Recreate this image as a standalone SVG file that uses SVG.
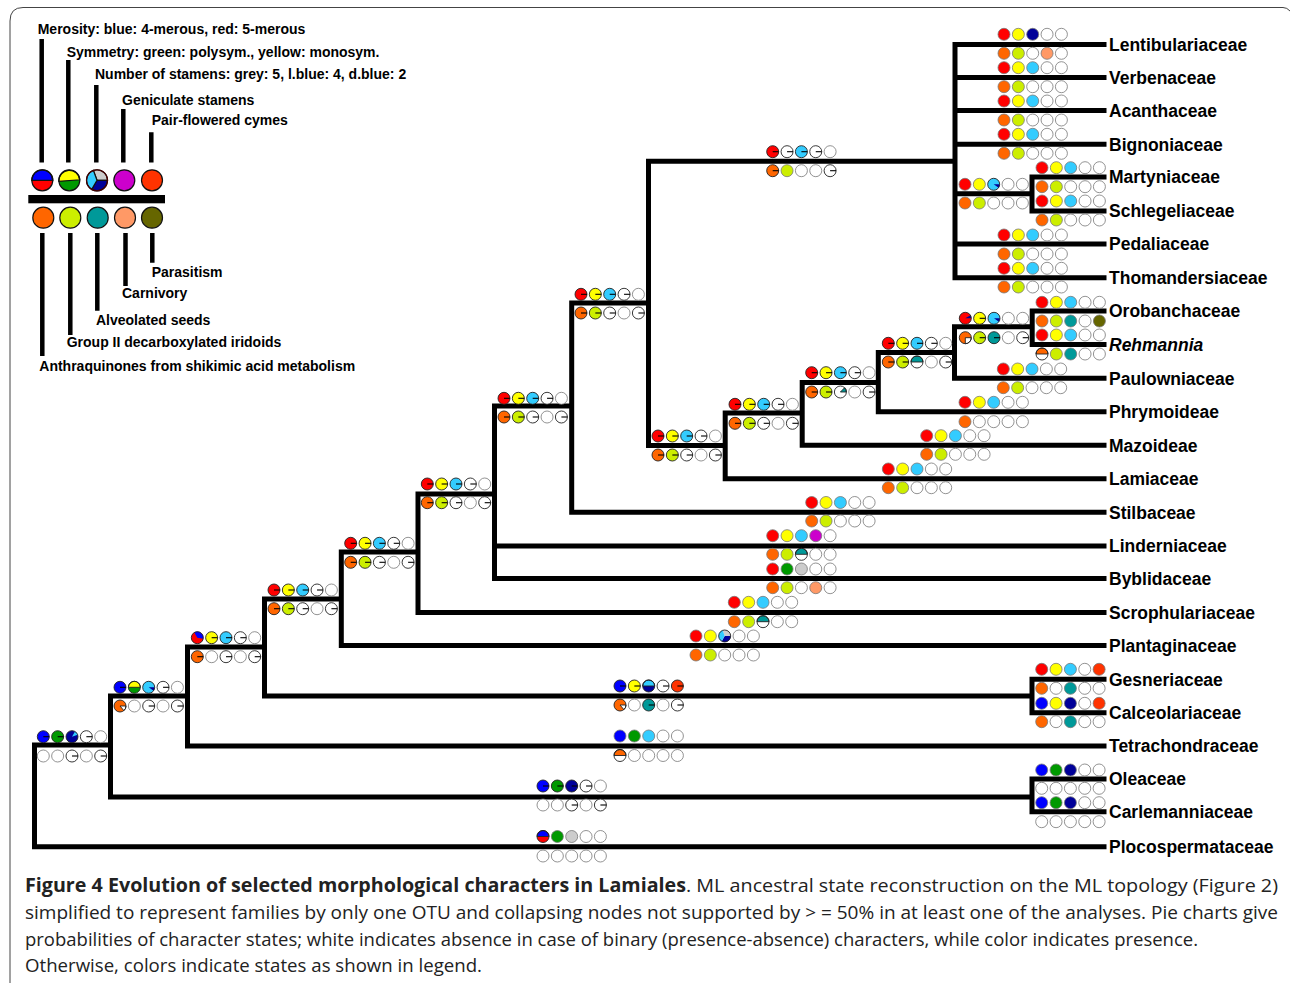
<svg xmlns="http://www.w3.org/2000/svg" width="1290" height="983" viewBox="0 0 1290 983">
<style>
.c{stroke:#777;stroke-width:.8}
.k{stroke:#222;stroke-width:.9}
.t{stroke:#000;stroke-width:1.1;fill:none}
.e{stroke:#000;stroke-width:5;fill:none;stroke-linecap:square}
.lg{stroke:#000;stroke-width:4.5;fill:none}
.lk{stroke:#111;stroke-width:1.2}
.lab{font-family:"Liberation Sans",Arial,sans-serif;font-weight:bold;font-size:17.5px;fill:#000}
.lt{font-family:"Liberation Sans",Arial,sans-serif;font-weight:bold;font-size:14px;fill:#000}
.cap{font-family:"Open Sans","Liberation Sans",sans-serif;font-size:19px;fill:#222}
</style>
<defs>
<circle id="R" r="6" fill="#f00" class="c"/>
<circle id="Y" r="6" fill="#ff0" class="c"/>
<circle id="LB" r="6" fill="#3cf" class="c"/>
<circle id="DB" r="6" fill="#009" class="c"/>
<circle id="B" r="6" fill="#00f" class="c"/>
<circle id="G" r="6" fill="#090" class="c"/>
<circle id="Gy" r="6" fill="#ccc" class="c"/>
<circle id="O" r="6" fill="#f60" class="c"/>
<circle id="L" r="6" fill="#ce0" class="c"/>
<circle id="T" r="6" fill="#099" class="c"/>
<circle id="S" r="6" fill="#f96" class="c"/>
<circle id="Ol" r="6" fill="#660" class="c"/>
<circle id="M" r="6" fill="#c0c" class="c"/>
<circle id="OR" r="6" fill="#f30" class="c"/>
<circle id="W" r="6" fill="#fff" class="c"/>
<g id="Rt"><circle r="6" fill="#f00" class="k"/><path d="M0,0H6" class="t"/></g>
<g id="Yt"><circle r="6" fill="#ff0" class="k"/><path d="M0,0H6" class="t"/></g>
<g id="LBt"><circle r="6" fill="#3cf" class="k"/><path d="M0,0H6" class="t"/></g>
<g id="Wt"><circle r="6" fill="#fff" class="k"/><path d="M0,0H6" class="t"/></g>
<g id="Ot"><circle r="6" fill="#f60" class="k"/><path d="M0,0H6" class="t"/></g>
<g id="Lt"><circle r="6" fill="#ce0" class="k"/><path d="M0,0H6" class="t"/></g>
<g id="Bt"><circle r="6" fill="#00f" class="k"/><path d="M0,0H6" class="t"/></g>
<g id="Gt"><circle r="6" fill="#090" class="k"/><path d="M0,0H6" class="t"/></g>
<g id="DBt"><circle r="6" fill="#009" class="k"/><path d="M0,0H6" class="t"/></g>
<g id="Tt"><circle r="6" fill="#099" class="k"/><path d="M0,0H6" class="t"/></g>
<g id="ORt"><circle r="6" fill="#f30" class="k"/><path d="M0,0H6" class="t"/></g>
<g id="DBlb"><circle r="6" fill="#009"/><path d="M0,0L3,-5.2A6,6 0 0 1 5.64,-2.05Z" fill="#3cf"/><circle r="6" fill="none" class="k"/></g>
<g id="LBdb"><circle r="6" fill="#3cf"/><path d="M0,0L6,0A6,6 0 0 1 4.9,3.44Z" fill="#009"/><circle r="6" fill="none" class="k"/></g>
<g id="Rdb"><circle r="6" fill="#f00"/><path d="M0,0L5.2,-3A6,6 0 0 1 6,0Z" fill="#009"/><circle r="6" fill="none" class="k"/></g>
<g id="RB"><circle r="6" fill="#f00"/><path d="M0,0L-3,-5.2A6,6 0 0 1 5.9,1.04Z" fill="#00f"/><circle r="6" fill="none" class="k"/></g>
<g id="Ow"><circle r="6" fill="#f60"/><path d="M0,0L6,0A6,6 0 0 1 3.86,4.6Z" fill="#fff" class="k"/><circle r="6" fill="none" class="k"/></g>
<g id="Oq"><circle r="6" fill="#f60"/><path d="M0,0L6,0A6,6 0 0 1 0,6Z" fill="#fff" class="k"/><circle r="6" fill="none" class="k"/></g>
<g id="Wteal"><circle r="6" fill="#fff"/><path d="M0,0L4.24,-4.24A6,6 0 0 1 6,0Z" fill="#099" class="k"/><circle r="6" fill="none" class="k"/></g>
<g id="YGh"><circle r="6" fill="#090"/><path d="M-6,0A6,6 0 0 1 6,0Z" fill="#ff0" class="k"/><circle r="6" fill="none" class="k"/></g>
<g id="TWh"><circle r="6" fill="#fff"/><path d="M-6,0A6,6 0 0 1 6,0Z" fill="#099" class="k"/><circle r="6" fill="none" class="k"/></g>
<g id="OWh"><circle r="6" fill="#fff"/><path d="M-6,0A6,6 0 0 1 6,0Z" fill="#f60" class="k"/><circle r="6" fill="none" class="k"/></g>
<g id="LBDBh"><circle r="6" fill="#009"/><path d="M-6,0A6,6 0 0 1 6,0Z" fill="#3cf" class="k"/><circle r="6" fill="none" class="k"/></g>
<g id="BRh"><circle r="6" fill="#f00"/><path d="M-6,0A6,6 0 0 1 6,0Z" fill="#00f" class="k"/><circle r="6" fill="none" class="k"/></g>
<g id="P3"><path d="M0,0L-2.05,-5.64A6,6 0 0 1 6,0Z" fill="#ccc"/><path d="M0,0L6,0A6,6 0 0 1 -3,5.2Z" fill="#009"/><path d="M0,0L-3,5.2A6,6 0 0 1 -2.05,-5.64Z" fill="#3cf"/><circle r="6" fill="none" class="k"/></g>
<g id="tA"><use href="#R"/><use href="#Y" x="14.35"/><use href="#LB" x="28.7"/><use href="#W" x="43.05"/><use href="#W" x="57.4"/></g>
<g id="tB"><use href="#O"/><use href="#L" x="14.35"/><use href="#W" x="28.7"/><use href="#W" x="43.05"/><use href="#W" x="57.4"/></g>
<g id="nt"><use href="#Rt"/><use href="#Yt" x="14.35"/><use href="#LBt" x="28.7"/><use href="#Wt" x="43.05"/><use href="#W" x="57.4"/></g>
<g id="nb"><use href="#Ot"/><use href="#Lt" x="14.35"/><use href="#Wt" x="28.7"/><use href="#W" x="43.05"/><use href="#Wt" x="57.4"/></g>
<g id="w5"><use href="#W"/><use href="#W" x="14.35"/><use href="#W" x="28.7"/><use href="#W" x="43.05"/><use href="#W" x="57.4"/></g>
<g id="wb"><use href="#W"/><use href="#W" x="14.35"/><use href="#Wt" x="28.7"/><use href="#W" x="43.05"/><use href="#Wt" x="57.4"/></g>
</defs>
<rect width="1290" height="983" fill="#fff"/>
<path d="M10,983V21Q10,7.5 23,7.5H1283Q1287,7.5 1290,11" fill="none" stroke="#444" stroke-width="1"/>

<g id="legend">
<path class="lg" d="M41.7,39V162.5M68.3,60V162.5M96.3,85V162.5M123.3,109V162.5M151.3,132.3V162.5M42.3,233V356M70.3,233V335M97.3,233V310.7M125.5,233V286M152.3,233V262.7"/>
<rect x="28.3" y="195" width="136.7" height="8.3" fill="#000"/>
<g transform="translate(42.3,180.3)"><circle r="10.5" fill="#f00"/><path d="M-10.5,0A10.5,10.5 0 0 1 10.5,0Z" fill="#00f" class="lk"/><circle r="10.5" fill="none" class="lk"/></g>
<g transform="translate(69.3,180.3)"><circle r="10.5" fill="#090"/><path d="M-10.45,1A10.5,10.5 0 0 1 10.49,-0.5Z" fill="#ff0" class="lk"/><circle r="10.5" fill="none" class="lk"/></g>
<g transform="translate(97,180.3)"><path d="M0,0L-3.59,-9.87A10.5,10.5 0 0 1 10.5,0Z" fill="#ccc" class="lk"/><path d="M0,0L10.5,0A10.5,10.5 0 0 1 -5.25,9.09Z" fill="#009" class="lk"/><path d="M0,0L-5.25,9.09A10.5,10.5 0 0 1 -3.59,-9.87Z" fill="#3cf" class="lk"/><circle r="10.5" fill="none" stroke="#400" stroke-width="1.2"/></g>
<circle cx="124.3" cy="180.3" r="10.5" fill="#c0c" class="lk"/>
<circle cx="152" cy="180.3" r="10.5" fill="#f30" class="lk"/>
<circle cx="43.3" cy="217.7" r="10.5" fill="#f60" class="lk"/>
<circle cx="70.3" cy="217.7" r="10.5" fill="#ce0" class="lk"/>
<circle cx="97.7" cy="217.7" r="10.5" fill="#099" class="lk"/>
<circle cx="125" cy="217.7" r="10.5" fill="#f96" class="lk"/>
<circle cx="152" cy="217.7" r="10.5" fill="#660" class="lk"/>
<text class="lt" x="37.7" y="33.5">Merosity: blue: 4-merous, red: 5-merous</text>
<text class="lt" x="66.7" y="56.7">Symmetry: green: polysym., yellow: monosym.</text>
<text class="lt" x="95" y="79.3">Number of stamens: grey: 5, l.blue: 4, d.blue: 2</text>
<text class="lt" x="122" y="105">Geniculate stamens</text>
<text class="lt" x="151.7" y="125">Pair-flowered cymes</text>
<text class="lt" x="151.7" y="277">Parasitism</text>
<text class="lt" x="122" y="298.3">Carnivory</text>
<text class="lt" x="96" y="325.3">Alveolated seeds</text>
<text class="lt" x="66.7" y="347">Group II decarboxylated iridoids</text>
<text class="lt" x="39.3" y="371.3">Anthraquinones from shikimic acid metabolism</text>
</g>

<g id="edges">
<path class="e" d="M34.5,745V846.8M34.5,745H110.5M34.5,846.8H1104
M110.5,696V797M110.5,797H1032M110.5,696H187.5
M187.5,647V746M187.5,746H1104M187.5,647H264.5
M264.5,599V696M264.5,696H1032M264.5,599H341.3
M341.3,552V645.5M341.3,645.5H1104M341.3,552H418
M418,494V612.5M418,612.5H1104M418,494H494.5
M494.5,406V578.5M494.5,546H1104M494.5,578.5H1104M494.5,406H571.7
M571.7,303V512.2M571.7,512.2H1104M571.7,303H648.5
M648.5,161.3V445.5M648.5,161.3H955M648.5,445.5H725.2
M725.2,413V478.8M725.2,478.8H1104M725.2,413H802.2
M802.2,382.5V445.3M802.2,445.3H1104M802.2,382.5H878.3
M878.3,352.5V411.7M878.3,411.7H1104M878.3,352.5H954.5
M954.5,326.8V378.3M954.5,378.3H1104M954.5,326.8H1032.2
M1032.2,311V344.5M1032.2,311H1104M1032.2,344.5H1104
M955,44.5V277.7M955,44.5H1104M955,77.5H1104M955,110.5H1104M955,144.3H1104M955,244H1104M955,277.7H1104
M955,193.7H1032M1032,177V211M1032,177H1104M1032,211H1104
M1032,679.3V712.7M1032,679.3H1104M1032,712.7H1104
M1032,779V811.7M1032,779H1104M1032,811.7H1104"/>
</g>

<g id="node-root"><use href="#Bt" x="43.3" y="736.7"/><use href="#Gt" x="57.65" y="736.7"/><use href="#DBlb" x="72" y="736.7"/><use href="#Wt" x="86.35" y="736.7"/><use href="#W" x="100.7" y="736.7"/><use href="#wb" x="43.3" y="756"/></g>
<g id="node-n3"><g transform="translate(120,687.3)"><use href="#Bt"/><use href="#YGh" x="14.35"/><use href="#LBdb" x="28.7"/><use href="#Wt" x="43.05"/><use href="#W" x="57.4"/></g><g transform="translate(120,706)"><use href="#Ow"/><use href="#W" x="14.35"/><use href="#Wt" x="28.7"/><use href="#W" x="43.05"/><use href="#Wt" x="57.4"/></g></g>
<g id="node-n4"><g transform="translate(197.3,637.7)"><use href="#RB"/><use href="#Yt" x="14.35"/><use href="#LBt" x="28.7"/><use href="#Wt" x="43.05"/><use href="#W" x="57.4"/></g><g transform="translate(197.3,656.7)"><use href="#Ot"/><use href="#W" x="14.35"/><use href="#Wt" x="28.7"/><use href="#W" x="43.05"/><use href="#Wt" x="57.4"/></g></g>
<g id="node-n5"><use href="#nt" x="274" y="590"/><use href="#nb" x="274" y="608.7"/></g>
<g id="node-n6"><use href="#nt" x="350.7" y="543.3"/><use href="#nb" x="350.7" y="562.3"/></g>
<g id="node-n7"><use href="#nt" x="427.3" y="484"/><use href="#nb" x="427.3" y="502.7"/></g>
<g id="node-n8"><use href="#nt" x="504" y="398.3"/><use href="#nb" x="504" y="417"/></g>
<g id="node-n9"><use href="#nt" x="581" y="294.3"/><use href="#nb" x="581" y="313"/></g>
<g id="node-n10"><g transform="translate(772.7,151.7)"><use href="#Rt"/><use href="#Wt" x="14.35"/><use href="#LBt" x="28.7"/><use href="#Wt" x="43.05"/><use href="#W" x="57.4"/></g><g transform="translate(772.7,170.7)"><use href="#Ot"/><use href="#L" x="14.35"/><use href="#W" x="28.7"/><use href="#W" x="43.05"/><use href="#Wt" x="57.4"/></g></g>
<g id="node-n11"><use href="#nt" x="658" y="436"/><use href="#nb" x="658" y="455"/></g>
<g id="node-n12"><use href="#nt" x="735" y="404.3"/><use href="#nb" x="735" y="423.3"/></g>
<g id="node-n13"><use href="#nt" x="811.7" y="372.7"/><g transform="translate(811.7,392)"><use href="#Ot"/><use href="#Lt" x="14.35"/><use href="#Wteal" x="28.7"/><use href="#W" x="43.05"/><use href="#Wt" x="57.4"/></g></g>
<g id="node-n14"><use href="#nt" x="888.3" y="343.3"/><g transform="translate(888.3,362)"><use href="#Ot"/><use href="#Lt" x="14.35"/><use href="#TWh" x="28.7"/><use href="#W" x="43.05"/><use href="#Wt" x="57.4"/></g></g>
<g id="node-n15"><g transform="translate(965.3,318.3)"><use href="#Rdb"/><use href="#Yt" x="14.35"/><use href="#LBdb" x="28.7"/><use href="#W" x="43.05"/><use href="#W" x="57.4"/></g><g transform="translate(965.3,337.7)"><use href="#Oq"/><use href="#Lt" x="14.35"/><use href="#Tt" x="28.7"/><use href="#W" x="43.05"/><use href="#Wt" x="57.4"/></g></g>
<g id="node-martyn-schleg"><g transform="translate(965,184.3)"><use href="#R"/><use href="#Y" x="14.35"/><use href="#LBdb" x="28.7"/><use href="#W" x="43.05"/><use href="#W" x="57.4"/></g><use href="#tB" x="965" y="203"/></g>
<g id="node-gesn-calc"><g transform="translate(620,686)"><use href="#Bt"/><use href="#Yt" x="14.35"/><use href="#LBDBh" x="28.7"/><use href="#Wt" x="43.05"/><use href="#ORt" x="57.4"/></g><g transform="translate(620,705)"><use href="#Ow"/><use href="#W" x="14.35"/><use href="#Tt" x="28.7"/><use href="#W" x="43.05"/><use href="#Wt" x="57.4"/></g></g>
<g id="node-olea-carl"><g transform="translate(543,786)"><use href="#Bt"/><use href="#Gt" x="14.35"/><use href="#DBt" x="28.7"/><use href="#Wt" x="43.05"/><use href="#W" x="57.4"/></g><use href="#wb" x="543" y="805"/></g>

<g id="tip-lentibulariaceae"><g transform="translate(1004,34.3)"><use href="#R"/><use href="#Y" x="14.35"/><use href="#DB" x="28.7"/><use href="#W" x="43.05"/><use href="#W" x="57.4"/></g><g transform="translate(1004,53.3)"><use href="#O"/><use href="#L" x="14.35"/><use href="#W" x="28.7"/><use href="#S" x="43.05"/><use href="#W" x="57.4"/></g><text class="lab" x="1109" y="50.8">Lentibulariaceae</text></g>
<g id="tip-verbenaceae"><use href="#tA" x="1004" y="67.7"/><use href="#tB" x="1004" y="86.7"/><text class="lab" x="1109" y="83.8">Verbenaceae</text></g>
<g id="tip-acanthaceae"><use href="#tA" x="1004" y="101"/><use href="#tB" x="1004" y="120"/><text class="lab" x="1109" y="116.8">Acanthaceae</text></g>
<g id="tip-bignoniaceae"><use href="#tA" x="1004" y="134.3"/><use href="#tB" x="1004" y="153.3"/><text class="lab" x="1109" y="150.6">Bignoniaceae</text></g>
<g id="tip-martyniaceae"><use href="#tA" x="1042" y="167.7"/><use href="#tB" x="1042" y="186.7"/><text class="lab" x="1109" y="183.3">Martyniaceae</text></g>
<g id="tip-schlegeliaceae"><use href="#tA" x="1042" y="201"/><use href="#tB" x="1042" y="220"/><text class="lab" x="1109" y="217.3">Schlegeliaceae</text></g>
<g id="tip-pedaliaceae"><use href="#tA" x="1004" y="235"/><use href="#tB" x="1004" y="254"/><text class="lab" x="1109" y="250.3">Pedaliaceae</text></g>
<g id="tip-thomandersiaceae"><use href="#tA" x="1004" y="268.3"/><use href="#tB" x="1004" y="287"/><text class="lab" x="1109" y="284">Thomandersiaceae</text></g>
<g id="tip-orobanchaceae"><use href="#tA" x="1042" y="302.3"/><g transform="translate(1042,321)"><use href="#O"/><use href="#L" x="14.35"/><use href="#T" x="28.7"/><use href="#W" x="43.05"/><use href="#Ol" x="57.4"/></g><text class="lab" x="1109" y="317.3">Orobanchaceae</text></g>
<g id="tip-rehmannia"><use href="#tA" x="1042" y="335"/><g transform="translate(1042,354)"><use href="#OWh"/><use href="#L" x="14.35"/><use href="#T" x="28.7"/><use href="#W" x="43.05"/><use href="#W" x="57.4"/></g><text class="lab" x="1109" y="350.8" font-style="italic">Rehmannia</text></g>
<g id="tip-paulowniaceae"><use href="#tA" x="1003.3" y="369"/><use href="#tB" x="1003.3" y="387.7"/><text class="lab" x="1109" y="384.6">Paulowniaceae</text></g>
<g id="tip-phrymoideae"><use href="#tA" x="965" y="402.3"/><g transform="translate(965,421.7)"><use href="#O"/><use href="#W" x="14.35"/><use href="#W" x="28.7"/><use href="#W" x="43.05"/><use href="#W" x="57.4"/></g><text class="lab" x="1109" y="418">Phrymoideae</text></g>
<g id="tip-mazoideae"><use href="#tA" x="926.7" y="435.7"/><use href="#tB" x="926.7" y="454.3"/><text class="lab" x="1109" y="451.6">Mazoideae</text></g>
<g id="tip-lamiaceae"><use href="#tA" x="888.3" y="469"/><use href="#tB" x="888.3" y="487.7"/><text class="lab" x="1109" y="485.1">Lamiaceae</text></g>
<g id="tip-stilbaceae"><use href="#tA" x="811.7" y="502.5"/><use href="#tB" x="811.7" y="521"/><text class="lab" x="1109" y="518.5">Stilbaceae</text></g>
<g id="tip-linderniaceae"><g transform="translate(772.7,535.7)"><use href="#R"/><use href="#Y" x="14.35"/><use href="#LB" x="28.7"/><use href="#M" x="43.05"/><use href="#W" x="57.4"/></g><g transform="translate(772.7,554.3)"><use href="#O"/><use href="#L" x="14.35"/><use href="#TWh" x="28.7"/><use href="#W" x="43.05"/><use href="#W" x="57.4"/></g><text class="lab" x="1109" y="552.3">Linderniaceae</text></g>
<g id="tip-byblidaceae"><g transform="translate(772.7,569)"><use href="#R"/><use href="#G" x="14.35"/><use href="#Gy" x="28.7"/><use href="#W" x="43.05"/><use href="#W" x="57.4"/></g><g transform="translate(772.7,587.7)"><use href="#O"/><use href="#L" x="14.35"/><use href="#W" x="28.7"/><use href="#S" x="43.05"/><use href="#W" x="57.4"/></g><text class="lab" x="1109" y="584.8">Byblidaceae</text></g>
<g id="tip-scrophulariaceae"><use href="#tA" x="734.3" y="602.3"/><g transform="translate(734.3,621.7)"><use href="#O"/><use href="#L" x="14.35"/><use href="#TWh" x="28.7"/><use href="#W" x="43.05"/><use href="#W" x="57.4"/></g><text class="lab" x="1109" y="618.8">Scrophulariaceae</text></g>
<g id="tip-plantaginaceae"><g transform="translate(696,636)"><use href="#R"/><use href="#Y" x="14.35"/><use href="#P3" x="28.7"/><use href="#W" x="43.05"/><use href="#W" x="57.4"/></g><use href="#tB" x="696" y="655"/><text class="lab" x="1109" y="651.8">Plantaginaceae</text></g>
<g id="tip-gesneriaceae"><g transform="translate(1041.7,669.3)"><use href="#R"/><use href="#Y" x="14.35"/><use href="#LB" x="28.7"/><use href="#W" x="43.05"/><use href="#OR" x="57.4"/></g><g transform="translate(1041.7,688.3)"><use href="#O"/><use href="#W" x="14.35"/><use href="#T" x="28.7"/><use href="#W" x="43.05"/><use href="#W" x="57.4"/></g><text class="lab" x="1109" y="685.6">Gesneriaceae</text></g>
<g id="tip-calceolariaceae"><g transform="translate(1041.7,703.3)"><use href="#B"/><use href="#Y" x="14.35"/><use href="#DB" x="28.7"/><use href="#W" x="43.05"/><use href="#OR" x="57.4"/></g><g transform="translate(1041.7,721.7)"><use href="#O"/><use href="#W" x="14.35"/><use href="#T" x="28.7"/><use href="#W" x="43.05"/><use href="#W" x="57.4"/></g><text class="lab" x="1109" y="719">Calceolariaceae</text></g>
<g id="tip-tetrachondraceae"><g transform="translate(620,736)"><use href="#B"/><use href="#G" x="14.35"/><use href="#LB" x="28.7"/><use href="#W" x="43.05"/><use href="#W" x="57.4"/></g><g transform="translate(620,755.5)"><use href="#OWh"/><use href="#W" x="14.35"/><use href="#W" x="28.7"/><use href="#W" x="43.05"/><use href="#W" x="57.4"/></g><text class="lab" x="1109" y="752.3">Tetrachondraceae</text></g>
<g id="tip-oleaceae"><g transform="translate(1041.7,770)"><use href="#B"/><use href="#G" x="14.35"/><use href="#DB" x="28.7"/><use href="#W" x="43.05"/><use href="#W" x="57.4"/></g><use href="#w5" x="1041.7" y="788.3"/><text class="lab" x="1109" y="785.3">Oleaceae</text></g>
<g id="tip-carlemanniaceae"><g transform="translate(1041.7,802.7)"><use href="#B"/><use href="#G" x="14.35"/><use href="#DB" x="28.7"/><use href="#W" x="43.05"/><use href="#W" x="57.4"/></g><use href="#w5" x="1041.7" y="821.7"/><text class="lab" x="1109" y="818">Carlemanniaceae</text></g>
<g id="tip-plocospermataceae"><g transform="translate(543,836.5)"><use href="#BRh"/><use href="#G" x="14.35"/><use href="#Gy" x="28.7"/><use href="#W" x="43.05"/><use href="#W" x="57.4"/></g><use href="#w5" x="543" y="856"/><text class="lab" x="1109" y="853.1">Plocospermataceae</text></g>

<g id="caption">
<text class="cap" x="25" y="892" font-weight="bold" textLength="661" lengthAdjust="spacingAndGlyphs">Figure 4 Evolution of selected morphological characters in Lamiales</text>
<text class="cap" x="686" y="892" textLength="592" lengthAdjust="spacingAndGlyphs">. ML ancestral state reconstruction on the ML topology (Figure 2)</text>
<text class="cap" x="25" y="919" textLength="1253" lengthAdjust="spacingAndGlyphs">simplified to represent families by only one OTU and collapsing nodes not supported by &gt; = 50% in at least one of the analyses. Pie charts give</text>
<text class="cap" x="25" y="946" textLength="1173" lengthAdjust="spacingAndGlyphs">probabilities of character states; white indicates absence in case of binary (presence-absence) characters, while color indicates presence.</text>
<text class="cap" x="25" y="972" textLength="457" lengthAdjust="spacingAndGlyphs">Otherwise, colors indicate states as shown in legend.</text>
</g>
</svg>
